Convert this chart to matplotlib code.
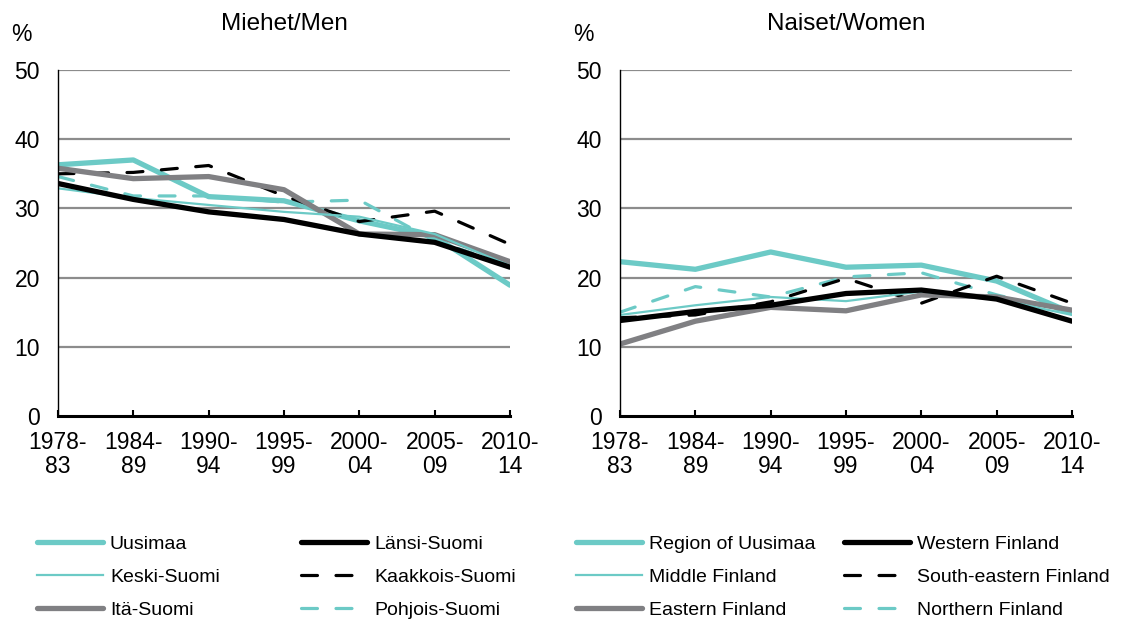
import matplotlib
matplotlib.use("Agg")
import matplotlib.pyplot as plt

plt.rcParams["font.family"] = ["Liberation Sans", "DejaVu Sans"]

periods = ["1978-\n83", "1984-\n89", "1990-\n94", "1995-\n99", "2000-\n04", "2005-\n09", "2010-\n14"]

# Miehet / Men
men_uusimaa = [36.3, 37.0, 31.7, 31.1, 28.2, 25.9, 18.9]
men_lansi = [33.6, 31.3, 29.5, 28.4, 26.3, 25.1, 21.5]
men_keski = [32.9, 31.5, 30.5, 29.5, 28.8, 26.3, 21.7]
men_kaakkois = [35.0, 35.2, 36.2, 31.8, 28.1, 29.6, 24.8]
men_ita = [35.8, 34.3, 34.6, 32.7, 26.3, 26.2, 22.3]
men_pohjois = [34.6, 31.8, 31.8, 30.9, 31.2, 25.3, 21.8]

# Naiset / Women
women_uusimaa = [22.3, 21.2, 23.7, 21.5, 21.8, 19.5, 14.9]
women_lansi = [13.8, 15.1, 16.0, 17.7, 18.2, 16.9, 13.7]
women_keski = [14.6, 16.0, 17.2, 16.6, 18.0, 16.9, 14.6]
women_kaakkois = [14.2, 14.6, 16.5, 19.9, 16.3, 20.2, 16.3]
women_ita = [10.4, 13.7, 15.7, 15.2, 17.5, 17.2, 15.3]
women_pohjois = [15.0, 18.7, 17.2, 20.1, 20.7, 17.5, 14.9]

labels_fi = ["Uusimaa", "Länsi-Suomi", "Keski-Suomi", "Kaakkois-Suomi", "Itä-Suomi", "Pohjois-Suomi"]
labels_en = ["Region of Uusimaa", "Western Finland", "Middle Finland",
             "South-eastern Finland", "Eastern Finland", "Northern Finland"]

TEAL = "#6ccac6"
GRAY = "#808083"
DASH = (0, (5.0, 5.8))
styles = [
    dict(color=TEAL, lw=3.8, ls="-", solid_capstyle="round"),
    dict(color="black", lw=3.8, ls="-", solid_capstyle="round"),
    dict(color=TEAL, lw=1.6, ls="-"),
    dict(color="black", lw=2.3, ls=DASH, dash_capstyle="round"),
    dict(color=GRAY, lw=3.8, ls="-", solid_capstyle="round"),
    dict(color=TEAL, lw=2.3, ls=DASH, dash_capstyle="round"),
]
# drawing order (back to front)
draw_order = [0, 5, 3, 4, 2, 1]

TICK_FS = 16.5
fig = plt.figure(figsize=(11.21, 6.21), dpi=100)


def panel(left, title, series, labels, leg_x):
    ax = fig.add_axes([left / 1121, 205 / 621, 452 / 1121, 346 / 621])
    x = list(range(len(periods)))
    handles = [None] * 6
    for i in draw_order:
        (h,) = ax.plot(x, series[i], **styles[i])
        handles[i] = h
    ax.set_xlim(0, 6)
    ax.set_ylim(0, 50)
    ax.set_yticks([0, 10, 20, 30, 40, 50])
    ax.set_xticks(x)
    ax.set_xticklabels(periods, linespacing=1.05)
    for y in [10, 20, 30, 40, 50]:
        ax.axhline(y, color="#8c8c8c", lw=1.6, zorder=0)
    for s in ["top", "right"]:
        ax.spines[s].set_visible(False)
    ax.spines["left"].set_linewidth(1.0)
    ax.spines["bottom"].set_linewidth(2.2)
    ax.tick_params(axis="y", length=0, pad=13, labelsize=TICK_FS)
    ax.tick_params(axis="x", direction="in", length=4, width=1.5, pad=11, labelsize=TICK_FS)
    ax.text(-0.103, 1.07, "%", transform=ax.transAxes, fontsize=TICK_FS, ha="left", va="bottom")
    ax.set_title(title, fontsize=17.5, pad=29)

    for col, idxs in enumerate([[0, 2, 4], [1, 3, 5]]):
        fig.legend([handles[i] for i in idxs], [labels[i] for i in idxs],
                   loc="upper left", bbox_to_anchor=(leg_x[col] / 1121, 1 - 535 / 621),
                   frameon=False, fontsize=14, handlelength=3.4, handletextpad=0.35,
                   labelspacing=0.8, borderpad=0, borderaxespad=0)
    return ax


panel(58, "Miehet/Men",
      [men_uusimaa, men_lansi, men_keski, men_kaakkois, men_ita, men_pohjois],
      labels_fi, [37, 301])
panel(620, "Naiset/Women",
      [women_uusimaa, women_lansi, women_keski, women_kaakkois, women_ita, women_pohjois],
      labels_en, [576, 844])

fig.savefig("out.png", dpi=100)
